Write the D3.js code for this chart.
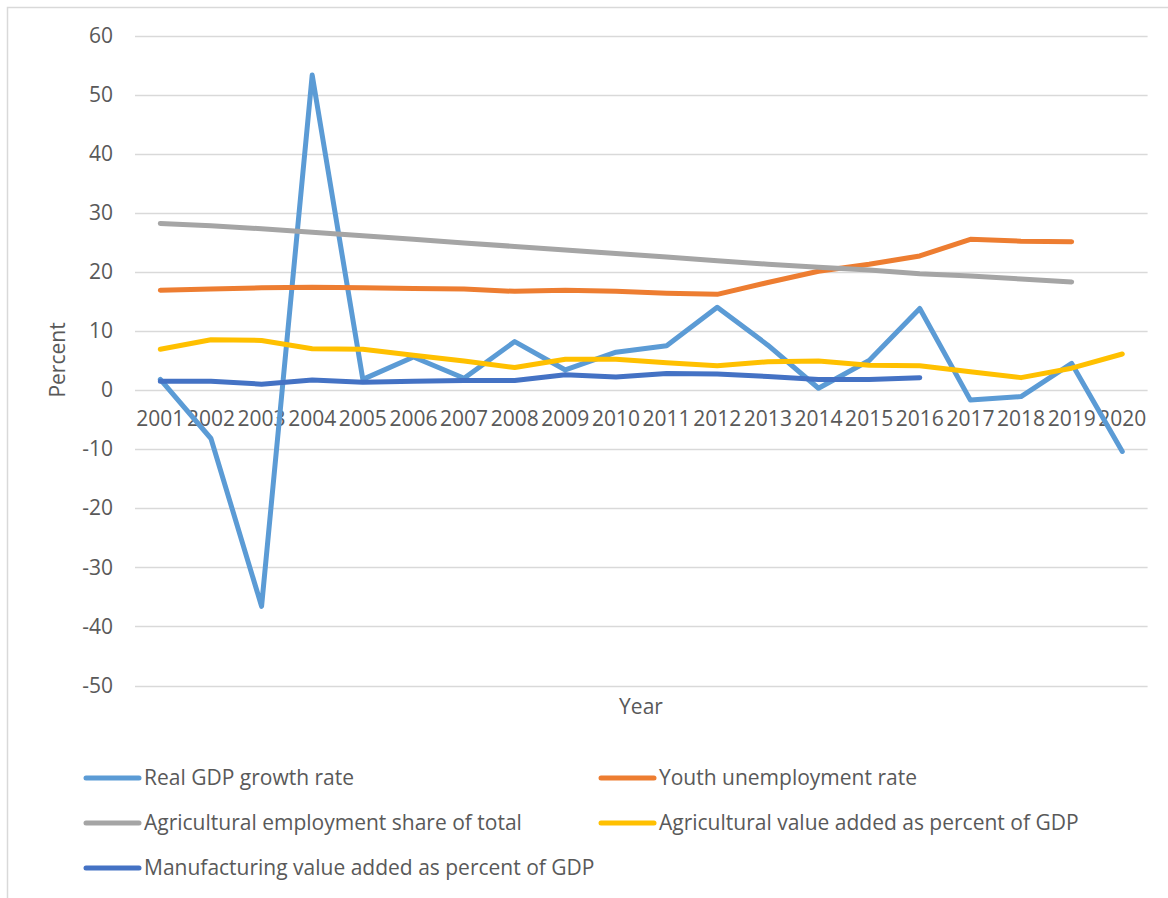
<!DOCTYPE html>
<html lang="en">
<head>
    <meta charset="utf-8">
    <title>Growth, employment and value added</title>
    <script src="https://cdn.jsdelivr.net/npm/d3@7"></script>
    <style>
        body { margin: 0; background: #fff; }
        text { font-family: "Open Sans", "DejaVu Sans", sans-serif; fill: #595959; }
    </style>
</head>
<body>
</body>
</html>
<script>
    //years on the x axis
    var years = ["2001", "2002", "2003", "2004", "2005", "2006", "2007", "2008", "2009", "2010",
        "2011", "2012", "2013", "2014", "2015", "2016", "2017", "2018", "2019", "2020"];

    //series values (null = no data)
    var gdp_growth = [1.8, -8.2, -36.6, 53.3, 1.8, 5.6, 2.0, 8.2, 3.4, 6.4,
        7.5, 14.0, 7.6, 0.3, 5.0, 13.8, -1.7, -1.1, 4.5, -10.4];
    var youth_unemp = [16.9, 17.1, 17.3, 17.4, 17.3, 17.2, 17.1, 16.7, 16.9, 16.7,
        16.4, 16.2, 18.2, 20.1, 21.3, 22.7, 25.5, 25.2, 25.1, null];
    var agri_emp = [28.2, 27.8, 27.3, 26.7, 26.1, 25.5, 24.9, 24.3, 23.7, 23.1,
        22.5, 21.9, 21.3, 20.8, 20.3, 19.7, 19.3, 18.8, 18.3, null];
    var agri_va = [6.9, 8.5, 8.4, 7.0, 6.9, 5.9, 4.9, 3.8, 5.2, 5.2,
        4.6, 4.1, 4.8, 4.9, 4.2, 4.1, 3.1, 2.1, 3.7, 6.1];
    var manuf_va = [1.5, 1.5, 1.0, 1.7, 1.3, 1.5, 1.6, 1.6, 2.6, 2.2,
        2.8, 2.7, 2.3, 1.8, 1.8, 2.1, null, null, null, null];

    var y_ticks = [60, 50, 40, 30, 20, 10, 0, -10, -20, -30, -40, -50];

    var series = [
        {name: "Real GDP growth rate", values: gdp_growth, color: "#5B9BD5"},
        {name: "Youth unemployment rate", values: youth_unemp, color: "#ED7D31"},
        {name: "Agricultural employment share of total", values: agri_emp, color: "#A5A5A5"},
        {name: "Agricultural value added as percent of GDP", values: agri_va, color: "#FFC000"},
        {name: "Manufacturing value added as percent of GDP", values: manuf_va, color: "#4472C4"}
    ];

    //canvas
    var width = 1168;
    var height = 898;
    var svg = d3.select("body")
            .append("svg")
            .attr("width", width)
            .attr("height", height);

    //chart frame (only top and left are inside the picture)
    svg.append("path")
            .attr("d", "M7.5," + height + "V7.5H" + width)
            .attr("fill", "none")
            .attr("stroke", "#D9D9D9")
            .attr("stroke-width", 1.5);

    //scales
    var x = d3.scaleBand()
            .domain(years)
            .range([135, 1147.6]);
    var y = d3.scaleLinear()
            .domain([-50, 60])
            .range([685.5, 35.5]);

    //gridlines
    svg.append("g")
            .selectAll("line")
            .data(y_ticks)
            .enter().append("line")
            .attr("x1", 135)
            .attr("x2", 1147.6)
            .attr("y1", function (d) { return Math.round(y(d)) + 0.5; })
            .attr("y2", function (d) { return Math.round(y(d)) + 0.5; })
            .attr("stroke", "#D9D9D9")
            .attr("stroke-width", 1.5);

    //y axis labels (plain hyphen for negatives)
    var yAxis = d3.axisLeft(y)
            .tickValues(y_ticks)
            .tickFormat(function (d) { return String(d); })
            .tickSize(0)
            .tickPadding(0);
    var gy = svg.append("g")
            .attr("transform", "translate(113,0)")
            .call(yAxis);
    gy.select(".domain").remove();
    gy.selectAll("text")
            .style("font-size", "21px")
            .attr("fill", "#595959");

    //x axis labels just under zero
    var xAxis = d3.axisBottom(x).tickSize(0).tickPadding(0);
    var gx = svg.append("g")
            .attr("transform", "translate(0," + (y(0) + 21) + ")")
            .call(xAxis);
    gx.select(".domain").remove();
    gx.selectAll("text")
            .style("font-size", "21px")
            .attr("fill", "#595959");

    //axis titles
    svg.append("text")
            .attr("transform", "translate(65,360) rotate(-90)")
            .attr("text-anchor", "middle")
            .style("font-size", "21px")
            .text("Percent");
    svg.append("text")
            .attr("x", 641)
            .attr("y", 714)
            .attr("text-anchor", "middle")
            .style("font-size", "21px")
            .text("Year");

    //lines
    var line = d3.line()
            .defined(function (d) { return d != null; })
            .x(function (d, i) { return x(years[i]) + x.bandwidth() / 2; })
            .y(function (d) { return y(d); });

    svg.append("g")
            .selectAll("path")
            .data(series)
            .enter().append("path")
            .attr("d", function (d) { return line(d.values); })
            .attr("fill", "none")
            .attr("stroke", function (d) { return d.color; })
            .attr("stroke-width", 5)
            .attr("stroke-linejoin", "round")
            .attr("stroke-linecap", "round");

    //legend, two columns
    var legend = svg.append("g")
            .selectAll("g")
            .data(series)
            .enter().append("g")
            .attr("transform", function (d, i) {
                var col = i % 2, row = Math.floor(i / 2);
                return "translate(" + (col === 0 ? 86 : 601) + "," + (778 + row * 45) + ")";
            });
    legend.append("line")
            .attr("x1", 0)
            .attr("x2", 53)
            .attr("stroke", function (d) { return d.color; })
            .attr("stroke-width", 5)
            .attr("stroke-linecap", "round");
    legend.append("text")
            .attr("x", 58)
            .attr("dy", "0.35em")
            .style("font-size", "21px")
            .text(function (d) { return d.name; });
</script>
